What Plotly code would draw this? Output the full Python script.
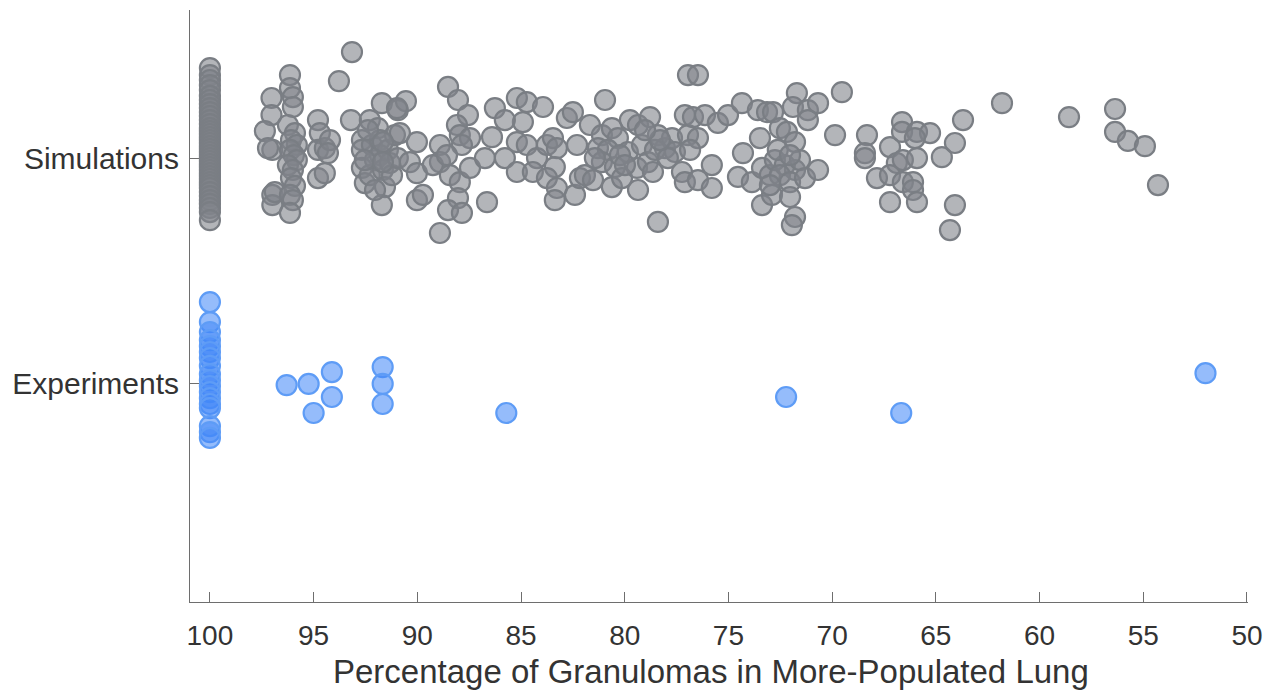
import plotly.graph_objects as go

# Category positions on the vertical axis
categories = ["Experiments", "Simulations"]
cat_pos = {"Experiments": 1, "Simulations": 2}

# Simulations: percentage in the more-populated lung and vertical jitter offset
sim_pct = (
    [100.0] * 41
    + [97.03, 97.03, 97.35, 96.99, 97.20, 96.99, 96.99, 96.87]
    + [96.14, 96.14, 96.0, 96.0, 96.24, 95.90, 96.09, 95.81, 96.14, 95.95,
       95.81, 96.24, 96.0, 96.09, 95.90, 96.14, 96.0, 96.14]
    + [94.79, 94.70, 94.79, 94.46, 94.21, 94.79, 94.46, 94.31]
    + [93.78, 93.15, 93.20]
    + [92.67, 92.67, 92.67, 92.53, 92.29, 92.19, 92.04, 92.29, 91.90, 91.80,
       91.80, 91.71, 91.66, 91.56, 91.71, 91.42, 91.32, 91.22, 91.08, 90.94,
       90.94, 90.55, 90.84, 92.53, 92.04, 92.38, 91.66, 91.66, 90.98]
    + [90.02, 90.36, 90.02, 90.02, 89.73, 88.52, 88.04, 87.56, 88.09, 88.91,
       88.91, 89.25, 88.43, 87.95, 87.46, 87.95, 87.46, 87.85, 88.57, 88.04,
       88.52, 87.85, 88.91]
    + [86.64, 86.26, 86.40, 86.74, 85.78, 85.20, 85.20, 84.72, 83.94, 84.91,
       85.78, 85.20, 84.72, 84.23, 84.43, 83.75, 83.46, 83.27, 83.37, 83.75,
       83.27, 83.37, 82.79, 82.50, 82.30, 82.40, 82.16]
    + [80.95, 81.68, 81.10, 80.62, 80.33, 81.29, 80.81, 81.10, 80.47, 81.92,
       81.53, 80.62, 80.13, 79.75, 79.36, 78.78, 79.85, 79.17, 79.41, 79.36,
       78.88, 78.64, 78.40, 78.06, 77.72, 77.58, 77.24, 77.10, 76.47, 75.80,
       75.80, 76.95, 76.47, 77.10, 76.71, 76.13, 75.51, 75.02, 76.95, 76.47,
       78.40, 78.54, 77.92, 78.30, 76.85, 79.02, 80.23, 81.44, 79.99]
    + [74.35, 73.58, 73.14, 73.48, 74.30, 74.54, 73.87, 73.38, 73.0, 73.38,
       72.90]
    + [71.70, 71.89, 71.17, 70.68, 71.17, 69.53, 72.85, 72.52, 72.18, 71.79,
       72.76, 72.28, 71.79, 72.52, 72.03, 71.55, 73.0, 71.31, 72.62, 72.03,
       70.68, 72.03, 71.79, 71.94]
    + [69.86, 68.32, 68.42, 68.42, 67.84, 67.21, 66.63, 66.63, 65.91, 65.28,
       66.01, 66.88, 66.59, 65.91, 67.21, 66.59, 66.10, 66.10, 67.21, 65.91,
       64.71, 64.08, 63.69, 64.08, 64.32]
    + [61.81, 58.58, 56.36, 56.36, 55.74, 54.92, 54.29]
)

sim_jitter = (
    [0.400, 0.369, 0.347, 0.324, 0.302, 0.276, 0.258, 0.240, 0.222, 0.204,
     0.187, 0.169, 0.151, 0.133, 0.120, 0.107, 0.093, 0.080, 0.067, 0.053,
     0.040, 0.027, 0.013, 0.0, -0.013, -0.027, -0.040, -0.053, -0.067, -0.080,
     -0.093, -0.107, -0.120, -0.133, -0.151, -0.169, -0.187, -0.204, -0.222,
     -0.240, -0.276]
    + [0.267, 0.191, 0.120, 0.036, 0.044, -0.164, -0.209, -0.151]
    + [0.369, 0.311, 0.271, 0.227, 0.147, 0.111, 0.080, 0.058, 0.036, 0.013,
       -0.009, -0.031, -0.053, -0.089, -0.124, -0.164, -0.187, -0.244]
    + [0.169, 0.111, 0.036, 0.044, 0.080, -0.089, -0.067, 0.022]
    + [0.342, 0.471, 0.169]
    + [0.080, 0.036, -0.044, -0.111, 0.169, 0.058, -0.009, -0.076, 0.133, 0.080,
       0.013, 0.244, -0.053, -0.129, -0.209, 0.036, -0.022, -0.076, 0.102, 0.213,
       0.0, 0.253, 0.111, -0.009, -0.142, 0.124, 0.071, -0.018, 0.222]
    + [0.071, -0.018, -0.067, -0.187, -0.164, 0.316, 0.258, 0.191, 0.147, 0.058,
       -0.018, -0.031, -0.076, -0.107, -0.044, 0.102, 0.089, 0.058, 0.013, -0.178,
       -0.231, -0.244, -0.333]
    + [-0.196, 0.222, 0.093, 0.0, 0.0, -0.062, 0.267, 0.249, 0.227, 0.160,
       0.169, 0.071, 0.058, 0.0, -0.062, 0.058, 0.089, 0.044, -0.040, -0.089,
       -0.133, -0.187, 0.178, 0.204, 0.058, -0.164, -0.089]
    + [0.258, 0.147, 0.102, 0.133, 0.089, 0.044, 0.036, -0.018, -0.040, -0.076,
       -0.098, -0.129, -0.089, 0.169, 0.147, 0.182, 0.027, 0.058, -0.044, -0.142,
       -0.018, -0.062, 0.102, 0.044, 0.089, 0.027, -0.062, -0.107, -0.098, -0.031,
       -0.133, 0.102, 0.089, 0.191, 0.182, 0.191, 0.156, 0.191, 0.369, 0.369,
       -0.284, 0.036, 0.0, 0.080, 0.036, 0.124, 0.013, 0.0, -0.031]
    + [0.244, 0.213, 0.204, 0.089, 0.022, -0.084, -0.107, -0.044, -0.076, -0.209,
       -0.164]
    + [0.289, 0.227, 0.213, 0.244, 0.169, 0.293, 0.204, 0.133, 0.116, 0.071,
       -0.009, -0.031, -0.053, -0.076, -0.107, -0.009, -0.120, -0.089, 0.036, 0.013,
       -0.053, -0.173, -0.262, -0.298]
    + [0.102, 0.102, 0.022, 0.0, -0.089, 0.049, 0.160, 0.116, 0.116, 0.111,
       0.089, -0.022, -0.009, 0.0, -0.076, -0.107, -0.107, -0.142, -0.196, -0.196,
       0.004, 0.067, 0.169, -0.209, -0.320]
    + [0.244, 0.182, 0.218, 0.116, 0.076, 0.053, -0.120]
)

# Experiments: percentage in the more-populated lung and vertical jitter offset
exp_pct = (
    [100.0] * 18
    + [96.30, 95.24, 94.12, 94.12, 95.0, 91.67, 91.67, 91.67, 85.71, 72.22,
       66.67, 52.0]
)
exp_jitter = (
    [0.360, 0.271, 0.227, 0.191, 0.164, 0.138, 0.111, 0.076, 0.040, 0.013,
     -0.013, -0.040, -0.067, -0.093, -0.111, -0.191, -0.218, -0.244]
    + [-0.009, -0.004, 0.049, -0.062, -0.133, 0.071, -0.004, -0.093, -0.133, -0.062,
       -0.133, 0.044]
)

x_ticks = [100, 95, 90, 85, 80, 75, 70, 65, 60, 55, 50]
x_title = "Percentage of Granulomas in More-Populated Lung"

FONT = "Liberation Sans, Arial, Helvetica, sans-serif"
TEXT = "#333333"
AXIS = "#6e6e6e"

fig = go.Figure()

fig.add_trace(go.Scatter(
    x=sim_pct,
    y=[cat_pos["Simulations"] + j for j in sim_jitter],
    mode="markers",
    name="Simulations",
    marker=dict(size=20, color="rgba(128,131,138,0.6)",
                line=dict(color="rgb(122,126,132)", width=2.2)),
    hoverinfo="x",
))

fig.add_trace(go.Scatter(
    x=exp_pct,
    y=[cat_pos["Experiments"] + j for j in exp_jitter],
    mode="markers",
    name="Experiments",
    marker=dict(size=20, color="rgba(66,136,248,0.56)",
                line=dict(color="rgb(94,156,246)", width=2.2)),
    hoverinfo="x",
))

fig.update_layout(
    width=1275, height=692,
    margin=dict(l=190, r=27, t=10, b=90),
    paper_bgcolor="white", plot_bgcolor="white",
    showlegend=False,
    font=dict(family=FONT, color=TEXT),
    annotations=[dict(
        text=x_title, xref="paper", yref="paper",
        x=0.4924, y=-0.1182, xanchor="center", yanchor="middle",
        showarrow=False, font=dict(size=33, family=FONT, color=TEXT),
    )],
)

fig.update_xaxes(
    range=[100.96, 49.95],
    tickvals=x_ticks,
    ticktext=[str(t) for t in x_ticks],
    ticks="inside", ticklen=10, tickwidth=1, tickcolor=AXIS,
    showline=True, linecolor=AXIS, linewidth=1,
    showgrid=False, zeroline=False,
    tickfont=dict(size=28, family=FONT, color=TEXT),
    ticklabelstandoff=8,
    automargin=False,
)

fig.update_yaxes(
    range=[0.027, 2.658],
    tickvals=[cat_pos[c] for c in categories],
    ticktext=categories,
    ticks="inside", ticklen=9, tickwidth=1, tickcolor=AXIS,
    showline=True, linecolor=AXIS, linewidth=1,
    showgrid=False, zeroline=False,
    tickfont=dict(size=30, family=FONT, color=TEXT),
    ticklabelstandoff=4,
    automargin=False,
)

fig.write_html("out.html")
